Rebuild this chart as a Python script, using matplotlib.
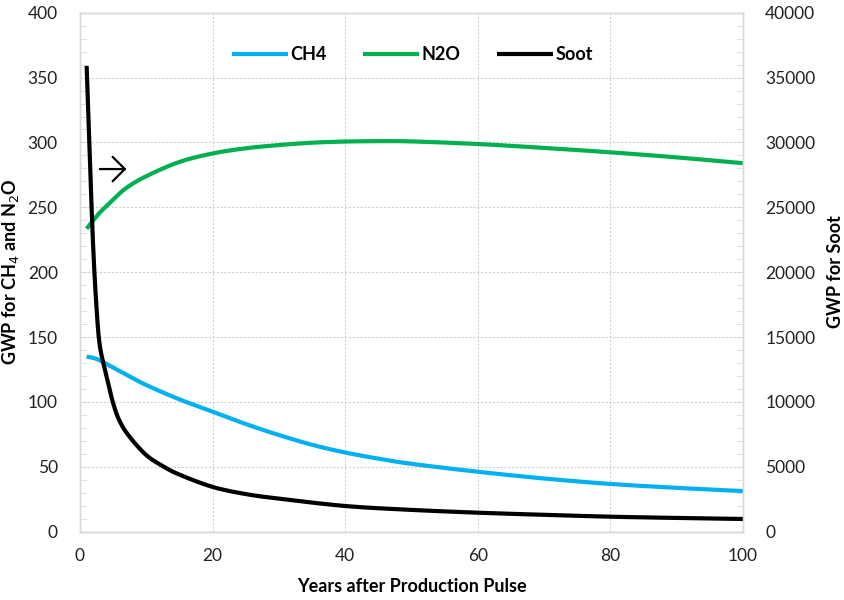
import matplotlib
matplotlib.use("Agg")
import matplotlib.pyplot as plt
import numpy as np
from matplotlib.ticker import MultipleLocator

plt.rcParams['font.family'] = ['Lato', 'DejaVu Sans']

years_ch4 = [1, 2, 3, 5, 7, 10, 15, 20, 25, 30, 35, 40, 45, 50, 60, 70, 80, 90, 100]
ch4 = [135, 134, 132, 126.5, 121, 113, 102, 92.5, 83, 74.5, 67, 61, 56.3, 52.3, 46.2, 41, 36.8, 33.8, 31.3]

years_n2o = [1, 2, 3, 4, 5, 7, 10, 15, 20, 25, 30, 35, 40, 45, 50, 60, 70, 80, 90, 100]
n2o = [233.5, 240, 246, 251, 256, 265, 274, 285, 291.5, 295.5, 298, 299.8, 300.7, 301, 300.8, 298.8, 295.8, 292.4, 288.5, 284]

years_soot = [1, 1.5, 2, 2.5, 3, 4, 5, 6, 7.5, 10, 12.5, 15, 20, 25, 30, 40, 50, 60, 70, 80, 90, 100]
soot = [35900, 28500, 21800, 17200, 14300, 12000, 9900, 8500, 7300, 5900, 5050, 4400, 3450, 2900, 2550, 1980, 1680, 1465, 1300, 1156, 1060, 980]

c_ch4 = '#00B0F0'
c_n2o = '#00B050'
c_soot = '#000000'
grid_c = '#D0D0D0'
spine_c = '#D9D9D9'


def smooth(x, y, n=12):
    """Catmull-Rom rendering of a polyline (like Excel's smoothed line)."""
    x = np.asarray(x, float)
    y = np.asarray(y, float)
    px = np.concatenate([[2 * x[0] - x[1]], x, [2 * x[-1] - x[-2]]])
    py = np.concatenate([[2 * y[0] - y[1]], y, [2 * y[-1] - y[-2]]])
    ox, oy = [], []
    t = np.linspace(0, 1, n, endpoint=False)
    for i in range(1, len(px) - 2):
        for arr, out in ((px, ox), (py, oy)):
            p0, p1, p2, p3 = arr[i - 1], arr[i], arr[i + 1], arr[i + 2]
            out.extend(0.5 * ((2 * p1) + (-p0 + p2) * t + (2 * p0 - 5 * p1 + 4 * p2 - p3) * t ** 2
                              + (-p0 + 3 * p1 - 3 * p2 + p3) * t ** 3))
    ox.append(x[-1])
    oy.append(y[-1])
    return np.array(ox), np.array(oy)


fig = plt.figure(figsize=(8.45, 6.0), dpi=100)
ax = fig.add_axes([80/845, 1-531.7/600, (743-80)/845, (531.7-12.7)/600])
ax2 = ax.twinx()

l1, = ax.plot(*smooth(years_ch4, ch4), color=c_ch4, lw=3.0, label='CH4', solid_capstyle='butt')
l2, = ax.plot(*smooth(years_n2o, n2o), color=c_n2o, lw=3.0, label='N2O', solid_capstyle='butt')
l3, = ax2.plot(*smooth(years_soot, soot), color=c_soot, lw=3.0, label='Soot', solid_capstyle='butt')

ax.set_xlim(0, 100)
ax.set_ylim(0, 400)
ax2.set_ylim(0, 40000)

ax.xaxis.set_major_locator(MultipleLocator(20))
ax.yaxis.set_major_locator(MultipleLocator(50))
ax.yaxis.set_minor_locator(MultipleLocator(10))
ax2.yaxis.set_major_locator(MultipleLocator(5000))
ax2.yaxis.set_minor_locator(MultipleLocator(1000))

ax.grid(True, which='major', color=grid_c, ls=(0, (2, 1.5)), lw=0.8)
ax.set_axisbelow(True)

for a in (ax, ax2):
    for s in a.spines.values():
        s.set_color(spine_c)
        s.set_linewidth(1.0)

ax.tick_params(axis='x', length=0, pad=12, labelsize=12.5, colors='#222222')
ax.tick_params(axis='y', which='major', direction='in', length=5, color=spine_c, pad=16, labelsize=12.5, labelcolor='#222222')
ax.tick_params(axis='y', which='minor', direction='in', length=5, color=spine_c)
ax2.tick_params(axis='y', which='major', direction='in', length=5, color=spine_c, pad=16, labelsize=12.5, labelcolor='#222222')
ax2.tick_params(axis='y', which='minor', direction='in', length=5, color=spine_c)

ax.set_xlabel('Years after Production Pulse', fontsize=13, fontweight='bold', labelpad=10)
fig.text(11/845, 1-272/600, 'GWP for CH$_4$ and N$_2$O', rotation=90, fontsize=13, fontweight='bold',
         ha='center', va='center')
fig.text(836/845, 1-272/600, 'GWP for Soot', rotation=90, fontsize=13, fontweight='bold',
         ha='center', va='center')

leg = ax2.legend(handles=[l1, l2, l3], loc='center', bbox_to_anchor=(0.5 * (240 + 585) / 845, 1 - 55 / 600),
                 bbox_transform=fig.transFigure, ncol=3,
                 frameon=False, fontsize=13, handlelength=3.1, handletextpad=0.15, columnspacing=2.0)
for t in leg.get_texts():
    t.set_fontweight('bold')

ax.annotate('', xy=(7.0, 279.5), xytext=(3.0, 279.5),
            arrowprops=dict(arrowstyle='->, head_length=0.4, head_width=0.4', color='black', lw=1.6,
                            mutation_scale=22, shrinkA=0, shrinkB=0))

fig.savefig('out.png', dpi=100)
